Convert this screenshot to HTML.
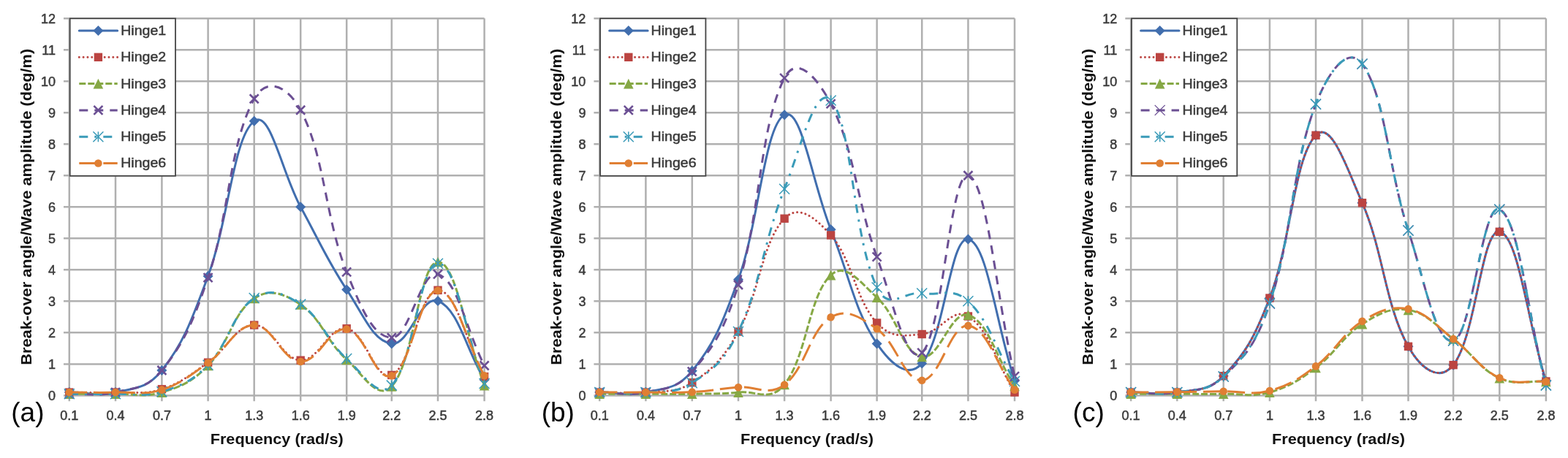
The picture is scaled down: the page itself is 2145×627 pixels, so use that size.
<!DOCTYPE html><html><head><meta charset="utf-8"><style>html,body{margin:0;padding:0;background:#fff;}svg{display:block;}</style></head><body>
<svg width="2145" height="627" viewBox="0 0 2145 627">
<rect width="2145" height="627" fill="#fff"/>
<g><path d="M87,541.4H662.6M87,498.38H662.6M87,455.36H662.6M87,412.34H662.6M87,369.32H662.6M87,326.3H662.6M87,283.28H662.6M87,240.26H662.6M87,197.24H662.6M87,154.22H662.6M87,111.2H662.6M87,68.18H662.6M87,25.16H662.6M94.8,25.16V549.3M158,25.16V549.3M221.4,25.16V549.3M284.6,25.16V549.3M347.7,25.16V549.3M411.2,25.16V549.3M474.2,25.16V549.3M535.8,25.16V549.3M599,25.16V549.3M662.6,25.16V549.3" stroke="#b0b0b0" stroke-width="2.5" fill="none"/><path d="M94.8,537.1 C120.08,537.1 133.34,542.96 158,537.1 C183.98,530.92 200.57,533.18 221.4,506.98 C251.21,469.51 262.06,438.82 284.6,377.92 C312.58,302.36 319.2,187.14 347.7,165.84 C369.84,149.28 385.71,236.81 411.2,283.28 C436.31,329.05 447.44,356.23 474.2,396.42 C497.28,431.08 510.14,467.23 535.8,470.42 C560.06,473.43 576.01,402.94 599,411.91 C626.73,422.73 637.16,476.7 662.6,519.89" fill="none" stroke="#416eae" stroke-width="3.0" stroke-linecap="round" stroke-linejoin="round"/><path d="M94.8,530.1 l7,7 l-7,7 l-7,-7 z" fill="#416eae"/><path d="M158,530.1 l7,7 l-7,7 l-7,-7 z" fill="#416eae"/><path d="M221.4,499.98 l7,7 l-7,7 l-7,-7 z" fill="#416eae"/><path d="M284.6,370.92 l7,7 l-7,7 l-7,-7 z" fill="#416eae"/><path d="M347.7,158.84 l7,7 l-7,7 l-7,-7 z" fill="#416eae"/><path d="M411.2,276.28 l7,7 l-7,7 l-7,-7 z" fill="#416eae"/><path d="M474.2,389.42 l7,7 l-7,7 l-7,-7 z" fill="#416eae"/><path d="M535.8,463.42 l7,7 l-7,7 l-7,-7 z" fill="#416eae"/><path d="M599,404.91 l7,7 l-7,7 l-7,-7 z" fill="#416eae"/><path d="M662.6,512.89 l7,7 l-7,7 l-7,-7 z" fill="#416eae"/><path d="M94.8,537.1 C120.08,537.1 132.71,537.96 158,537.1 C183.35,536.24 196.96,540.69 221.4,532.8 C247.6,524.34 260.01,513.31 284.6,496.23 C310.53,478.21 322.26,445.64 347.7,445.04 C372.9,444.44 385.64,492.26 411.2,493.22 C436.24,494.15 450.19,445.87 474.2,449.77 C500.03,453.96 513.33,522.89 535.8,513.44 C563.25,501.89 573.74,396.85 599,397.28 C624.46,397.71 637.16,468.27 662.6,515.59" fill="none" stroke="#bb4441" stroke-width="3.0" stroke-linecap="round" stroke-linejoin="round" stroke-dasharray="0.01 5.8"/><rect x="89.1" y="531.4" width="11.4" height="11.4" fill="#bb4441"/><rect x="152.3" y="531.4" width="11.4" height="11.4" fill="#bb4441"/><rect x="215.7" y="527.1" width="11.4" height="11.4" fill="#bb4441"/><rect x="278.9" y="490.53" width="11.4" height="11.4" fill="#bb4441"/><rect x="342" y="439.34" width="11.4" height="11.4" fill="#bb4441"/><rect x="405.5" y="487.52" width="11.4" height="11.4" fill="#bb4441"/><rect x="468.5" y="444.07" width="11.4" height="11.4" fill="#bb4441"/><rect x="530.1" y="507.74" width="11.4" height="11.4" fill="#bb4441"/><rect x="593.3" y="391.58" width="11.4" height="11.4" fill="#bb4441"/><rect x="656.9" y="509.89" width="11.4" height="11.4" fill="#bb4441"/><path d="M94.8,539.25 C120.08,539.25 132.7,539.68 158,539.25 C183.34,538.82 196.97,544.57 221.4,537.1 C247.61,529.08 262.01,523.54 284.6,500.53 C312.53,472.09 318.89,427.46 347.7,408.47 C369.53,394.08 388.59,402.08 411.2,417.07 C439.19,435.63 447.32,468.23 474.2,492.36 C497.16,512.97 516.55,549.57 535.8,528.92 C566.47,496.05 573.6,358.82 599,358.56 C624.32,358.31 637.16,460.01 662.6,527.63" fill="none" stroke="#86a845" stroke-width="3.0" stroke-linecap="butt" stroke-linejoin="round" stroke-dasharray="9 3"/><path d="M94.8,532.45 L101.6,546.05 L88,546.05 z" fill="#86a845"/><path d="M158,532.45 L164.8,546.05 L151.2,546.05 z" fill="#86a845"/><path d="M221.4,530.3 L228.2,543.9 L214.6,543.9 z" fill="#86a845"/><path d="M284.6,493.73 L291.4,507.33 L277.8,507.33 z" fill="#86a845"/><path d="M347.7,401.67 L354.5,415.27 L340.9,415.27 z" fill="#86a845"/><path d="M411.2,410.27 L418,423.87 L404.4,423.87 z" fill="#86a845"/><path d="M474.2,485.56 L481,499.16 L467.4,499.16 z" fill="#86a845"/><path d="M535.8,522.12 L542.6,535.72 L529,535.72 z" fill="#86a845"/><path d="M599,351.76 L605.8,365.36 L592.2,365.36 z" fill="#86a845"/><path d="M662.6,520.83 L669.4,534.43 L655.8,534.43 z" fill="#86a845"/><path d="M94.8,539.25 C120.08,538.39 133.34,543.38 158,537.1 C183.98,530.48 200.49,532.92 221.4,506.98 C251.13,470.12 262.97,443.74 284.6,380.07 C313.49,295.06 314.13,196.09 347.7,135.29 C364.77,104.37 393.61,117.82 411.2,150.78 C444.21,212.64 444.67,298.52 474.2,372.33 C494.51,423.11 510.75,461.64 535.8,462.24 C560.67,462.84 575.33,368.2 599,375.34 C626.05,383.51 637.16,450.46 662.6,500.53" fill="none" stroke="#6b4f93" stroke-width="3.0" stroke-linecap="butt" stroke-linejoin="round" stroke-dasharray="12 9"/><path d="M88.8,533.25 L100.8,545.25 M100.8,533.25 L88.8,545.25" stroke="#6b4f93" stroke-width="2.6" fill="none"/><path d="M152,531.1 L164,543.1 M164,531.1 L152,543.1" stroke="#6b4f93" stroke-width="2.6" fill="none"/><path d="M215.4,500.98 L227.4,512.98 M227.4,500.98 L215.4,512.98" stroke="#6b4f93" stroke-width="2.6" fill="none"/><path d="M278.6,374.07 L290.6,386.07 M290.6,374.07 L278.6,386.07" stroke="#6b4f93" stroke-width="2.6" fill="none"/><path d="M341.7,129.29 L353.7,141.29 M353.7,129.29 L341.7,141.29" stroke="#6b4f93" stroke-width="2.6" fill="none"/><path d="M405.2,144.78 L417.2,156.78 M417.2,144.78 L405.2,156.78" stroke="#6b4f93" stroke-width="2.6" fill="none"/><path d="M468.2,366.33 L480.2,378.33 M480.2,366.33 L468.2,378.33" stroke="#6b4f93" stroke-width="2.6" fill="none"/><path d="M529.8,456.24 L541.8,468.24 M541.8,456.24 L529.8,468.24" stroke="#6b4f93" stroke-width="2.6" fill="none"/><path d="M593,369.34 L605,381.34 M605,369.34 L593,381.34" stroke="#6b4f93" stroke-width="2.6" fill="none"/><path d="M656.6,494.53 L668.6,506.53 M668.6,494.53 L656.6,506.53" stroke="#6b4f93" stroke-width="2.6" fill="none"/><path d="M94.8,539.25 C120.08,539.25 132.71,539.85 158,539.25 C183.35,538.65 196.97,543.88 221.4,536.24 C247.61,528.04 261.99,522.62 284.6,499.67 C312.51,471.34 318.91,426.92 347.7,408.04 C369.55,393.71 388.55,401.77 411.2,416.64 C439.15,434.98 447.36,467.16 474.2,491.07 C497.2,511.56 516.44,547.86 535.8,527.63 C566.36,495.71 573.56,361.23 599,360.72 C624.28,360.2 637.16,459.32 662.6,525.05" fill="none" stroke="#3a9bb8" stroke-width="3.0" stroke-linecap="butt" stroke-linejoin="round" stroke-dasharray="12 9 3 9"/><path d="M87.8,532.25 L101.8,546.25 M101.8,532.25 L87.8,546.25 M94.8,532.25 L94.8,546.25" stroke="#3a9bb8" stroke-width="1.5" fill="none"/><path d="M151,532.25 L165,546.25 M165,532.25 L151,546.25 M158,532.25 L158,546.25" stroke="#3a9bb8" stroke-width="1.5" fill="none"/><path d="M214.4,529.24 L228.4,543.24 M228.4,529.24 L214.4,543.24 M221.4,529.24 L221.4,543.24" stroke="#3a9bb8" stroke-width="1.5" fill="none"/><path d="M277.6,492.67 L291.6,506.67 M291.6,492.67 L277.6,506.67 M284.6,492.67 L284.6,506.67" stroke="#3a9bb8" stroke-width="1.5" fill="none"/><path d="M340.7,401.04 L354.7,415.04 M354.7,401.04 L340.7,415.04 M347.7,401.04 L347.7,415.04" stroke="#3a9bb8" stroke-width="1.5" fill="none"/><path d="M404.2,409.64 L418.2,423.64 M418.2,409.64 L404.2,423.64 M411.2,409.64 L411.2,423.64" stroke="#3a9bb8" stroke-width="1.5" fill="none"/><path d="M467.2,484.07 L481.2,498.07 M481.2,484.07 L467.2,498.07 M474.2,484.07 L474.2,498.07" stroke="#3a9bb8" stroke-width="1.5" fill="none"/><path d="M528.8,520.63 L542.8,534.63 M542.8,520.63 L528.8,534.63 M535.8,520.63 L535.8,534.63" stroke="#3a9bb8" stroke-width="1.5" fill="none"/><path d="M592,353.72 L606,367.72 M606,353.72 L592,367.72 M599,353.72 L599,367.72" stroke="#3a9bb8" stroke-width="1.5" fill="none"/><path d="M655.6,518.05 L669.6,532.05 M669.6,518.05 L655.6,532.05 M662.6,518.05 L662.6,532.05" stroke="#3a9bb8" stroke-width="1.5" fill="none"/><path d="M94.8,537.1 C120.08,537.1 132.71,537.79 158,537.1 C183.35,536.41 196.98,541.46 221.4,533.66 C247.62,525.28 260.02,513.91 284.6,496.66 C310.54,478.46 322.32,445.38 347.7,445.04 C372.96,444.69 385.6,493.81 411.2,494.94 C436.2,496.04 450.15,446.89 474.2,450.63 C499.99,454.63 513.35,523.82 535.8,514.3 C563.27,502.65 573.65,397.71 599,397.71 C624.37,397.71 637.16,467.66 662.6,514.3" fill="none" stroke="#e07f33" stroke-width="3.0" stroke-linecap="butt" stroke-linejoin="round" stroke-dasharray="24 9"/><circle cx="94.8" cy="537.1" r="5.3" fill="#e07f33"/><circle cx="158" cy="537.1" r="5.3" fill="#e07f33"/><circle cx="221.4" cy="533.66" r="5.3" fill="#e07f33"/><circle cx="284.6" cy="496.66" r="5.3" fill="#e07f33"/><circle cx="347.7" cy="445.04" r="5.3" fill="#e07f33"/><circle cx="411.2" cy="494.94" r="5.3" fill="#e07f33"/><circle cx="474.2" cy="450.63" r="5.3" fill="#e07f33"/><circle cx="535.8" cy="514.3" r="5.3" fill="#e07f33"/><circle cx="599" cy="397.71" r="5.3" fill="#e07f33"/><circle cx="662.6" cy="514.3" r="5.3" fill="#e07f33"/><text x="76" y="547.8" text-anchor="end" font-size="18" fill="#3b3b3b" stroke="#3b3b3b" stroke-width="0.5" font-family="'Liberation Sans', Arial, sans-serif">0</text><text x="76" y="504.78" text-anchor="end" font-size="18" fill="#3b3b3b" stroke="#3b3b3b" stroke-width="0.5" font-family="'Liberation Sans', Arial, sans-serif">1</text><text x="76" y="461.76" text-anchor="end" font-size="18" fill="#3b3b3b" stroke="#3b3b3b" stroke-width="0.5" font-family="'Liberation Sans', Arial, sans-serif">2</text><text x="76" y="418.74" text-anchor="end" font-size="18" fill="#3b3b3b" stroke="#3b3b3b" stroke-width="0.5" font-family="'Liberation Sans', Arial, sans-serif">3</text><text x="76" y="375.72" text-anchor="end" font-size="18" fill="#3b3b3b" stroke="#3b3b3b" stroke-width="0.5" font-family="'Liberation Sans', Arial, sans-serif">4</text><text x="76" y="332.7" text-anchor="end" font-size="18" fill="#3b3b3b" stroke="#3b3b3b" stroke-width="0.5" font-family="'Liberation Sans', Arial, sans-serif">5</text><text x="76" y="289.68" text-anchor="end" font-size="18" fill="#3b3b3b" stroke="#3b3b3b" stroke-width="0.5" font-family="'Liberation Sans', Arial, sans-serif">6</text><text x="76" y="246.66" text-anchor="end" font-size="18" fill="#3b3b3b" stroke="#3b3b3b" stroke-width="0.5" font-family="'Liberation Sans', Arial, sans-serif">7</text><text x="76" y="203.64" text-anchor="end" font-size="18" fill="#3b3b3b" stroke="#3b3b3b" stroke-width="0.5" font-family="'Liberation Sans', Arial, sans-serif">8</text><text x="76" y="160.62" text-anchor="end" font-size="18" fill="#3b3b3b" stroke="#3b3b3b" stroke-width="0.5" font-family="'Liberation Sans', Arial, sans-serif">9</text><text x="76" y="117.6" text-anchor="end" font-size="18" fill="#3b3b3b" stroke="#3b3b3b" stroke-width="0.5" font-family="'Liberation Sans', Arial, sans-serif">10</text><text x="76" y="74.58" text-anchor="end" font-size="18" fill="#3b3b3b" stroke="#3b3b3b" stroke-width="0.5" font-family="'Liberation Sans', Arial, sans-serif">11</text><text x="76" y="31.56" text-anchor="end" font-size="18" fill="#3b3b3b" stroke="#3b3b3b" stroke-width="0.5" font-family="'Liberation Sans', Arial, sans-serif">12</text><text x="94.8" y="574.9" text-anchor="middle" font-size="18" fill="#3b3b3b" stroke="#3b3b3b" stroke-width="0.5" font-family="'Liberation Sans', Arial, sans-serif">0.1</text><text x="158" y="574.9" text-anchor="middle" font-size="18" fill="#3b3b3b" stroke="#3b3b3b" stroke-width="0.5" font-family="'Liberation Sans', Arial, sans-serif">0.4</text><text x="221.4" y="574.9" text-anchor="middle" font-size="18" fill="#3b3b3b" stroke="#3b3b3b" stroke-width="0.5" font-family="'Liberation Sans', Arial, sans-serif">0.7</text><text x="284.6" y="574.9" text-anchor="middle" font-size="18" fill="#3b3b3b" stroke="#3b3b3b" stroke-width="0.5" font-family="'Liberation Sans', Arial, sans-serif">1</text><text x="347.7" y="574.9" text-anchor="middle" font-size="18" fill="#3b3b3b" stroke="#3b3b3b" stroke-width="0.5" font-family="'Liberation Sans', Arial, sans-serif">1.3</text><text x="411.2" y="574.9" text-anchor="middle" font-size="18" fill="#3b3b3b" stroke="#3b3b3b" stroke-width="0.5" font-family="'Liberation Sans', Arial, sans-serif">1.6</text><text x="474.2" y="574.9" text-anchor="middle" font-size="18" fill="#3b3b3b" stroke="#3b3b3b" stroke-width="0.5" font-family="'Liberation Sans', Arial, sans-serif">1.9</text><text x="535.8" y="574.9" text-anchor="middle" font-size="18" fill="#3b3b3b" stroke="#3b3b3b" stroke-width="0.5" font-family="'Liberation Sans', Arial, sans-serif">2.2</text><text x="599" y="574.9" text-anchor="middle" font-size="18" fill="#3b3b3b" stroke="#3b3b3b" stroke-width="0.5" font-family="'Liberation Sans', Arial, sans-serif">2.5</text><text x="662.6" y="574.9" text-anchor="middle" font-size="18" fill="#3b3b3b" stroke="#3b3b3b" stroke-width="0.5" font-family="'Liberation Sans', Arial, sans-serif">2.8</text><rect x="95.7" y="25.3" width="144.3" height="215.5" fill="#fff" stroke="#454545" stroke-width="1.8"/><path d="M108.3,42H160.7" fill="none" stroke="#416eae" stroke-width="3.0" stroke-linecap="round" stroke-linejoin="round"/><path d="M134.4,35 l7,7 l-7,7 l-7,-7 z" fill="#416eae"/><text x="165.2" y="47.9" font-size="17.6" textLength="62" lengthAdjust="spacingAndGlyphs" fill="#3b3b3b" stroke="#3b3b3b" stroke-width="0.5" font-family="'Liberation Sans', Arial, sans-serif">Hinge1</text><path d="M108.3,78.3H160.7" fill="none" stroke="#bb4441" stroke-width="3.0" stroke-linecap="round" stroke-linejoin="round" stroke-dasharray="0.01 5.8"/><rect x="128.7" y="72.6" width="11.4" height="11.4" fill="#bb4441"/><text x="165.2" y="84.2" font-size="17.6" textLength="62" lengthAdjust="spacingAndGlyphs" fill="#3b3b3b" stroke="#3b3b3b" stroke-width="0.5" font-family="'Liberation Sans', Arial, sans-serif">Hinge2</text><path d="M108.3,114.6H160.7" fill="none" stroke="#86a845" stroke-width="3.0" stroke-linecap="butt" stroke-linejoin="round" stroke-dasharray="9 3"/><path d="M134.4,107.8 L141.2,121.4 L127.6,121.4 z" fill="#86a845"/><text x="165.2" y="120.5" font-size="17.6" textLength="62" lengthAdjust="spacingAndGlyphs" fill="#3b3b3b" stroke="#3b3b3b" stroke-width="0.5" font-family="'Liberation Sans', Arial, sans-serif">Hinge3</text><path d="M108.3,150.9H160.7" fill="none" stroke="#6b4f93" stroke-width="3.0" stroke-linecap="butt" stroke-linejoin="round" stroke-dasharray="12 9"/><path d="M128.4,144.9 L140.4,156.9 M140.4,144.9 L128.4,156.9" stroke="#6b4f93" stroke-width="2.6" fill="none"/><text x="165.2" y="156.8" font-size="17.6" textLength="62" lengthAdjust="spacingAndGlyphs" fill="#3b3b3b" stroke="#3b3b3b" stroke-width="0.5" font-family="'Liberation Sans', Arial, sans-serif">Hinge4</text><path d="M108.3,187.2H160.7" fill="none" stroke="#3a9bb8" stroke-width="3.0" stroke-linecap="butt" stroke-linejoin="round" stroke-dasharray="12 9 3 9"/><path d="M127.4,180.2 L141.4,194.2 M141.4,180.2 L127.4,194.2 M134.4,180.2 L134.4,194.2" stroke="#3a9bb8" stroke-width="1.5" fill="none"/><text x="165.2" y="193.1" font-size="17.6" textLength="62" lengthAdjust="spacingAndGlyphs" fill="#3b3b3b" stroke="#3b3b3b" stroke-width="0.5" font-family="'Liberation Sans', Arial, sans-serif">Hinge5</text><path d="M108.3,223.5H160.7" fill="none" stroke="#e07f33" stroke-width="3.0" stroke-linecap="butt" stroke-linejoin="round" stroke-dasharray="24 9"/><circle cx="134.4" cy="223.5" r="5.3" fill="#e07f33"/><text x="165.2" y="229.4" font-size="17.6" textLength="62" lengthAdjust="spacingAndGlyphs" fill="#3b3b3b" stroke="#3b3b3b" stroke-width="0.5" font-family="'Liberation Sans', Arial, sans-serif">Hinge6</text><text x="378.7" y="608.3" text-anchor="middle" font-size="20.5" textLength="182" lengthAdjust="spacingAndGlyphs" font-weight="bold" fill="#111" font-family="'Liberation Sans', Arial, sans-serif">Frequency (rad/s)</text><text transform="translate(42.8,283.28) rotate(-90)" text-anchor="middle" font-size="20.6" textLength="433" lengthAdjust="spacingAndGlyphs" font-weight="bold" fill="#111" font-family="'Liberation Sans', Arial, sans-serif">Break-over angle/Wave amplitude (deg/m)</text><text x="15.3" y="577.3" font-size="37" fill="#000" font-family="'Liberation Sans', Arial, sans-serif">(a)</text></g>
<g><path d="M812.4,541.4H1388M812.4,498.38H1388M812.4,455.36H1388M812.4,412.34H1388M812.4,369.32H1388M812.4,326.3H1388M812.4,283.28H1388M812.4,240.26H1388M812.4,197.24H1388M812.4,154.22H1388M812.4,111.2H1388M812.4,68.18H1388M812.4,25.16H1388M820.2,25.16V549.3M883.4,25.16V549.3M946.8,25.16V549.3M1010,25.16V549.3M1073.1,25.16V549.3M1136.6,25.16V549.3M1199.6,25.16V549.3M1261.2,25.16V549.3M1324.4,25.16V549.3M1388,25.16V549.3" stroke="#b0b0b0" stroke-width="2.5" fill="none"/><path d="M820.2,537.1 C845.48,537.1 858.71,542.8 883.4,537.1 C909.35,531.1 925.85,533.4 946.8,507.84 C976.49,471.62 987.96,443.85 1010,382.66 C1038.48,303.6 1045.74,172.02 1073.1,157.23 C1096.38,144.66 1111.26,251.53 1136.6,314.25 C1161.86,376.8 1169.06,425.5 1199.6,470.42 C1218.9,498.81 1242.3,519.15 1261.2,497.52 C1292.22,462.02 1299.78,323 1324.4,327.59 C1350.5,332.46 1362.56,443.74 1388,521.18" fill="none" stroke="#416eae" stroke-width="3.0" stroke-linecap="round" stroke-linejoin="round"/><path d="M820.2,530.1 l7,7 l-7,7 l-7,-7 z" fill="#416eae"/><path d="M883.4,530.1 l7,7 l-7,7 l-7,-7 z" fill="#416eae"/><path d="M946.8,500.84 l7,7 l-7,7 l-7,-7 z" fill="#416eae"/><path d="M1010,375.66 l7,7 l-7,7 l-7,-7 z" fill="#416eae"/><path d="M1073.1,150.23 l7,7 l-7,7 l-7,-7 z" fill="#416eae"/><path d="M1136.6,307.25 l7,7 l-7,7 l-7,-7 z" fill="#416eae"/><path d="M1199.6,463.42 l7,7 l-7,7 l-7,-7 z" fill="#416eae"/><path d="M1261.2,490.52 l7,7 l-7,7 l-7,-7 z" fill="#416eae"/><path d="M1324.4,320.59 l7,7 l-7,7 l-7,-7 z" fill="#416eae"/><path d="M1388,514.18 l7,7 l-7,7 l-7,-7 z" fill="#416eae"/><path d="M820.2,537.1 C845.48,537.1 858.24,539.75 883.4,537.1 C908.88,534.41 923.83,538.82 946.8,523.76 C974.47,505.61 988.35,492.57 1010,454.07 C1038.87,402.74 1042.13,331.51 1073.1,299.2 C1092.77,278.68 1115.67,298.37 1136.6,322 C1166.27,355.5 1170.01,409.85 1199.6,442.02 C1219.85,464.05 1236.65,459.29 1261.2,457.51 C1286.57,455.67 1302.74,419.39 1324.4,432.99 C1353.46,451.23 1362.56,495.45 1388,537.1" fill="none" stroke="#bb4441" stroke-width="3.0" stroke-linecap="round" stroke-linejoin="round" stroke-dasharray="0.01 5.8"/><rect x="814.5" y="531.4" width="11.4" height="11.4" fill="#bb4441"/><rect x="877.7" y="531.4" width="11.4" height="11.4" fill="#bb4441"/><rect x="941.1" y="518.06" width="11.4" height="11.4" fill="#bb4441"/><rect x="1004.3" y="448.37" width="11.4" height="11.4" fill="#bb4441"/><rect x="1067.4" y="293.5" width="11.4" height="11.4" fill="#bb4441"/><rect x="1130.9" y="316.3" width="11.4" height="11.4" fill="#bb4441"/><rect x="1193.9" y="436.32" width="11.4" height="11.4" fill="#bb4441"/><rect x="1255.5" y="451.81" width="11.4" height="11.4" fill="#bb4441"/><rect x="1318.7" y="427.29" width="11.4" height="11.4" fill="#bb4441"/><rect x="1382.3" y="531.4" width="11.4" height="11.4" fill="#bb4441"/><path d="M820.2,539.25 C845.48,539.25 858.1,539.25 883.4,539.25 C908.74,539.25 921.46,539.68 946.8,539.25 C972.1,538.82 984.82,539.67 1010,537.1 C1035.34,534.51 1053.58,551.09 1073.1,526.34 C1104.22,486.9 1106.05,405.41 1136.6,376.63 C1156.65,357.75 1177.02,386.91 1199.6,407.18 C1226.86,431.65 1235.12,483.45 1261.2,488.49 C1285.04,493.09 1301,423.89 1324.4,431.27 C1351.72,439.89 1362.56,489.6 1388,528.49" fill="none" stroke="#86a845" stroke-width="3.0" stroke-linecap="butt" stroke-linejoin="round" stroke-dasharray="9 3"/><path d="M820.2,532.45 L827,546.05 L813.4,546.05 z" fill="#86a845"/><path d="M883.4,532.45 L890.2,546.05 L876.6,546.05 z" fill="#86a845"/><path d="M946.8,532.45 L953.6,546.05 L940,546.05 z" fill="#86a845"/><path d="M1010,530.3 L1016.8,543.9 L1003.2,543.9 z" fill="#86a845"/><path d="M1073.1,519.54 L1079.9,533.14 L1066.3,533.14 z" fill="#86a845"/><path d="M1136.6,369.83 L1143.4,383.43 L1129.8,383.43 z" fill="#86a845"/><path d="M1199.6,400.38 L1206.4,413.98 L1192.8,413.98 z" fill="#86a845"/><path d="M1261.2,481.69 L1268,495.29 L1254.4,495.29 z" fill="#86a845"/><path d="M1324.4,424.47 L1331.2,438.07 L1317.6,438.07 z" fill="#86a845"/><path d="M1388,521.69 L1394.8,535.29 L1381.2,535.29 z" fill="#86a845"/><path d="M820.2,537.1 C845.48,537.1 858.68,542.64 883.4,537.1 C909.32,531.29 925.62,533.31 946.8,508.7 C976.26,474.46 989.53,455.08 1010,389.97 C1040.05,294.36 1039.35,172.96 1073.1,106.9 C1089.99,73.84 1118.1,106.38 1136.6,142.17 C1168.7,204.29 1172.12,276.55 1199.6,351.68 C1221.96,412.84 1239.64,502.14 1261.2,482.89 C1289.56,457.57 1299.79,234 1324.4,240.26 C1350.51,246.9 1362.56,405.2 1388,515.16" fill="none" stroke="#6b4f93" stroke-width="3.0" stroke-linecap="butt" stroke-linejoin="round" stroke-dasharray="12 9"/><path d="M814.2,531.1 L826.2,543.1 M826.2,531.1 L814.2,543.1" stroke="#6b4f93" stroke-width="2.6" fill="none"/><path d="M877.4,531.1 L889.4,543.1 M889.4,531.1 L877.4,543.1" stroke="#6b4f93" stroke-width="2.6" fill="none"/><path d="M940.8,502.7 L952.8,514.7 M952.8,502.7 L940.8,514.7" stroke="#6b4f93" stroke-width="2.6" fill="none"/><path d="M1004,383.97 L1016,395.97 M1016,383.97 L1004,395.97" stroke="#6b4f93" stroke-width="2.6" fill="none"/><path d="M1067.1,100.9 L1079.1,112.9 M1079.1,100.9 L1067.1,112.9" stroke="#6b4f93" stroke-width="2.6" fill="none"/><path d="M1130.6,136.17 L1142.6,148.17 M1142.6,136.17 L1130.6,148.17" stroke="#6b4f93" stroke-width="2.6" fill="none"/><path d="M1193.6,345.68 L1205.6,357.68 M1205.6,345.68 L1193.6,357.68" stroke="#6b4f93" stroke-width="2.6" fill="none"/><path d="M1255.2,476.89 L1267.2,488.89 M1267.2,476.89 L1255.2,488.89" stroke="#6b4f93" stroke-width="2.6" fill="none"/><path d="M1318.4,234.26 L1330.4,246.26 M1330.4,234.26 L1318.4,246.26" stroke="#6b4f93" stroke-width="2.6" fill="none"/><path d="M1382,509.16 L1394,521.16 M1394,509.16 L1382,521.16" stroke="#6b4f93" stroke-width="2.6" fill="none"/><path d="M820.2,537.1 C845.48,537.1 858.23,539.66 883.4,537.1 C908.87,534.5 923.86,539.23 946.8,524.19 C974.5,506.02 989.58,496.98 1010,454.07 C1040.1,390.8 1045.23,328.47 1073.1,258.76 C1095.87,201.82 1115.41,114.88 1136.6,137.44 C1166.01,168.74 1166.05,322.29 1199.6,393.41 C1215.89,427.94 1236.43,397.83 1261.2,401.58 C1286.35,405.4 1303.32,392.32 1324.4,412.34 C1354.04,440.5 1362.56,478.16 1388,522.04" fill="none" stroke="#3a9bb8" stroke-width="3.0" stroke-linecap="butt" stroke-linejoin="round" stroke-dasharray="12 9 3 9"/><path d="M813.2,530.1 L827.2,544.1 M827.2,530.1 L813.2,544.1 M820.2,530.1 L820.2,544.1" stroke="#3a9bb8" stroke-width="1.5" fill="none"/><path d="M876.4,530.1 L890.4,544.1 M890.4,530.1 L876.4,544.1 M883.4,530.1 L883.4,544.1" stroke="#3a9bb8" stroke-width="1.5" fill="none"/><path d="M939.8,517.19 L953.8,531.19 M953.8,517.19 L939.8,531.19 M946.8,517.19 L946.8,531.19" stroke="#3a9bb8" stroke-width="1.5" fill="none"/><path d="M1003,447.07 L1017,461.07 M1017,447.07 L1003,461.07 M1010,447.07 L1010,461.07" stroke="#3a9bb8" stroke-width="1.5" fill="none"/><path d="M1066.1,251.76 L1080.1,265.76 M1080.1,251.76 L1066.1,265.76 M1073.1,251.76 L1073.1,265.76" stroke="#3a9bb8" stroke-width="1.5" fill="none"/><path d="M1129.6,130.44 L1143.6,144.44 M1143.6,130.44 L1129.6,144.44 M1136.6,130.44 L1136.6,144.44" stroke="#3a9bb8" stroke-width="1.5" fill="none"/><path d="M1192.6,386.41 L1206.6,400.41 M1206.6,386.41 L1192.6,400.41 M1199.6,386.41 L1199.6,400.41" stroke="#3a9bb8" stroke-width="1.5" fill="none"/><path d="M1254.2,394.58 L1268.2,408.58 M1268.2,394.58 L1254.2,408.58 M1261.2,394.58 L1261.2,408.58" stroke="#3a9bb8" stroke-width="1.5" fill="none"/><path d="M1317.4,405.34 L1331.4,419.34 M1331.4,405.34 L1317.4,419.34 M1324.4,405.34 L1324.4,419.34" stroke="#3a9bb8" stroke-width="1.5" fill="none"/><path d="M1381,515.04 L1395,529.04 M1395,515.04 L1381,529.04 M1388,515.04 L1388,529.04" stroke="#3a9bb8" stroke-width="1.5" fill="none"/><path d="M820.2,537.1 C845.48,537.1 858.1,537.18 883.4,537.1 C908.74,537.01 921.49,538.04 946.8,536.67 C972.13,535.29 984.71,532.2 1010,530.21 C1035.23,528.24 1051.39,543.23 1073.1,526.77 C1102.03,504.85 1107.87,451.67 1136.6,434.28 C1158.47,421.04 1176.95,434.48 1199.6,450.2 C1226.79,469.07 1236.52,521.6 1261.2,520.75 C1286.44,519.88 1299.68,443.38 1324.4,445.9 C1350.4,448.54 1362.56,498.55 1388,533.66" fill="none" stroke="#e07f33" stroke-width="3.0" stroke-linecap="butt" stroke-linejoin="round" stroke-dasharray="24 9"/><circle cx="820.2" cy="537.1" r="5.3" fill="#e07f33"/><circle cx="883.4" cy="537.1" r="5.3" fill="#e07f33"/><circle cx="946.8" cy="536.67" r="5.3" fill="#e07f33"/><circle cx="1010" cy="530.21" r="5.3" fill="#e07f33"/><circle cx="1073.1" cy="526.77" r="5.3" fill="#e07f33"/><circle cx="1136.6" cy="434.28" r="5.3" fill="#e07f33"/><circle cx="1199.6" cy="450.2" r="5.3" fill="#e07f33"/><circle cx="1261.2" cy="520.75" r="5.3" fill="#e07f33"/><circle cx="1324.4" cy="445.9" r="5.3" fill="#e07f33"/><circle cx="1388" cy="533.66" r="5.3" fill="#e07f33"/><text x="801.4" y="547.8" text-anchor="end" font-size="18" fill="#3b3b3b" stroke="#3b3b3b" stroke-width="0.5" font-family="'Liberation Sans', Arial, sans-serif">0</text><text x="801.4" y="504.78" text-anchor="end" font-size="18" fill="#3b3b3b" stroke="#3b3b3b" stroke-width="0.5" font-family="'Liberation Sans', Arial, sans-serif">1</text><text x="801.4" y="461.76" text-anchor="end" font-size="18" fill="#3b3b3b" stroke="#3b3b3b" stroke-width="0.5" font-family="'Liberation Sans', Arial, sans-serif">2</text><text x="801.4" y="418.74" text-anchor="end" font-size="18" fill="#3b3b3b" stroke="#3b3b3b" stroke-width="0.5" font-family="'Liberation Sans', Arial, sans-serif">3</text><text x="801.4" y="375.72" text-anchor="end" font-size="18" fill="#3b3b3b" stroke="#3b3b3b" stroke-width="0.5" font-family="'Liberation Sans', Arial, sans-serif">4</text><text x="801.4" y="332.7" text-anchor="end" font-size="18" fill="#3b3b3b" stroke="#3b3b3b" stroke-width="0.5" font-family="'Liberation Sans', Arial, sans-serif">5</text><text x="801.4" y="289.68" text-anchor="end" font-size="18" fill="#3b3b3b" stroke="#3b3b3b" stroke-width="0.5" font-family="'Liberation Sans', Arial, sans-serif">6</text><text x="801.4" y="246.66" text-anchor="end" font-size="18" fill="#3b3b3b" stroke="#3b3b3b" stroke-width="0.5" font-family="'Liberation Sans', Arial, sans-serif">7</text><text x="801.4" y="203.64" text-anchor="end" font-size="18" fill="#3b3b3b" stroke="#3b3b3b" stroke-width="0.5" font-family="'Liberation Sans', Arial, sans-serif">8</text><text x="801.4" y="160.62" text-anchor="end" font-size="18" fill="#3b3b3b" stroke="#3b3b3b" stroke-width="0.5" font-family="'Liberation Sans', Arial, sans-serif">9</text><text x="801.4" y="117.6" text-anchor="end" font-size="18" fill="#3b3b3b" stroke="#3b3b3b" stroke-width="0.5" font-family="'Liberation Sans', Arial, sans-serif">10</text><text x="801.4" y="74.58" text-anchor="end" font-size="18" fill="#3b3b3b" stroke="#3b3b3b" stroke-width="0.5" font-family="'Liberation Sans', Arial, sans-serif">11</text><text x="801.4" y="31.56" text-anchor="end" font-size="18" fill="#3b3b3b" stroke="#3b3b3b" stroke-width="0.5" font-family="'Liberation Sans', Arial, sans-serif">12</text><text x="820.2" y="574.9" text-anchor="middle" font-size="18" fill="#3b3b3b" stroke="#3b3b3b" stroke-width="0.5" font-family="'Liberation Sans', Arial, sans-serif">0.1</text><text x="883.4" y="574.9" text-anchor="middle" font-size="18" fill="#3b3b3b" stroke="#3b3b3b" stroke-width="0.5" font-family="'Liberation Sans', Arial, sans-serif">0.4</text><text x="946.8" y="574.9" text-anchor="middle" font-size="18" fill="#3b3b3b" stroke="#3b3b3b" stroke-width="0.5" font-family="'Liberation Sans', Arial, sans-serif">0.7</text><text x="1010" y="574.9" text-anchor="middle" font-size="18" fill="#3b3b3b" stroke="#3b3b3b" stroke-width="0.5" font-family="'Liberation Sans', Arial, sans-serif">1</text><text x="1073.1" y="574.9" text-anchor="middle" font-size="18" fill="#3b3b3b" stroke="#3b3b3b" stroke-width="0.5" font-family="'Liberation Sans', Arial, sans-serif">1.3</text><text x="1136.6" y="574.9" text-anchor="middle" font-size="18" fill="#3b3b3b" stroke="#3b3b3b" stroke-width="0.5" font-family="'Liberation Sans', Arial, sans-serif">1.6</text><text x="1199.6" y="574.9" text-anchor="middle" font-size="18" fill="#3b3b3b" stroke="#3b3b3b" stroke-width="0.5" font-family="'Liberation Sans', Arial, sans-serif">1.9</text><text x="1261.2" y="574.9" text-anchor="middle" font-size="18" fill="#3b3b3b" stroke="#3b3b3b" stroke-width="0.5" font-family="'Liberation Sans', Arial, sans-serif">2.2</text><text x="1324.4" y="574.9" text-anchor="middle" font-size="18" fill="#3b3b3b" stroke="#3b3b3b" stroke-width="0.5" font-family="'Liberation Sans', Arial, sans-serif">2.5</text><text x="1388" y="574.9" text-anchor="middle" font-size="18" fill="#3b3b3b" stroke="#3b3b3b" stroke-width="0.5" font-family="'Liberation Sans', Arial, sans-serif">2.8</text><rect x="821.1" y="25.3" width="144.3" height="215.5" fill="#fff" stroke="#454545" stroke-width="1.8"/><path d="M833.7,42H886.1" fill="none" stroke="#416eae" stroke-width="3.0" stroke-linecap="round" stroke-linejoin="round"/><path d="M859.8,35 l7,7 l-7,7 l-7,-7 z" fill="#416eae"/><text x="890.6" y="47.9" font-size="17.6" textLength="62" lengthAdjust="spacingAndGlyphs" fill="#3b3b3b" stroke="#3b3b3b" stroke-width="0.5" font-family="'Liberation Sans', Arial, sans-serif">Hinge1</text><path d="M833.7,78.3H886.1" fill="none" stroke="#bb4441" stroke-width="3.0" stroke-linecap="round" stroke-linejoin="round" stroke-dasharray="0.01 5.8"/><rect x="854.1" y="72.6" width="11.4" height="11.4" fill="#bb4441"/><text x="890.6" y="84.2" font-size="17.6" textLength="62" lengthAdjust="spacingAndGlyphs" fill="#3b3b3b" stroke="#3b3b3b" stroke-width="0.5" font-family="'Liberation Sans', Arial, sans-serif">Hinge2</text><path d="M833.7,114.6H886.1" fill="none" stroke="#86a845" stroke-width="3.0" stroke-linecap="butt" stroke-linejoin="round" stroke-dasharray="9 3"/><path d="M859.8,107.8 L866.6,121.4 L853,121.4 z" fill="#86a845"/><text x="890.6" y="120.5" font-size="17.6" textLength="62" lengthAdjust="spacingAndGlyphs" fill="#3b3b3b" stroke="#3b3b3b" stroke-width="0.5" font-family="'Liberation Sans', Arial, sans-serif">Hinge3</text><path d="M833.7,150.9H886.1" fill="none" stroke="#6b4f93" stroke-width="3.0" stroke-linecap="butt" stroke-linejoin="round" stroke-dasharray="12 9"/><path d="M853.8,144.9 L865.8,156.9 M865.8,144.9 L853.8,156.9" stroke="#6b4f93" stroke-width="2.6" fill="none"/><text x="890.6" y="156.8" font-size="17.6" textLength="62" lengthAdjust="spacingAndGlyphs" fill="#3b3b3b" stroke="#3b3b3b" stroke-width="0.5" font-family="'Liberation Sans', Arial, sans-serif">Hinge4</text><path d="M833.7,187.2H886.1" fill="none" stroke="#3a9bb8" stroke-width="3.0" stroke-linecap="butt" stroke-linejoin="round" stroke-dasharray="12 9 3 9"/><path d="M852.8,180.2 L866.8,194.2 M866.8,180.2 L852.8,194.2 M859.8,180.2 L859.8,194.2" stroke="#3a9bb8" stroke-width="1.5" fill="none"/><text x="890.6" y="193.1" font-size="17.6" textLength="62" lengthAdjust="spacingAndGlyphs" fill="#3b3b3b" stroke="#3b3b3b" stroke-width="0.5" font-family="'Liberation Sans', Arial, sans-serif">Hinge5</text><path d="M833.7,223.5H886.1" fill="none" stroke="#e07f33" stroke-width="3.0" stroke-linecap="butt" stroke-linejoin="round" stroke-dasharray="24 9"/><circle cx="859.8" cy="223.5" r="5.3" fill="#e07f33"/><text x="890.6" y="229.4" font-size="17.6" textLength="62" lengthAdjust="spacingAndGlyphs" fill="#3b3b3b" stroke="#3b3b3b" stroke-width="0.5" font-family="'Liberation Sans', Arial, sans-serif">Hinge6</text><text x="1104.1" y="608.3" text-anchor="middle" font-size="20.5" textLength="182" lengthAdjust="spacingAndGlyphs" font-weight="bold" fill="#111" font-family="'Liberation Sans', Arial, sans-serif">Frequency (rad/s)</text><text transform="translate(768.2,283.28) rotate(-90)" text-anchor="middle" font-size="20.6" textLength="433" lengthAdjust="spacingAndGlyphs" font-weight="bold" fill="#111" font-family="'Liberation Sans', Arial, sans-serif">Break-over angle/Wave amplitude (deg/m)</text><text x="740.7" y="577.3" font-size="37" fill="#000" font-family="'Liberation Sans', Arial, sans-serif">(b)</text></g>
<g><path d="M1539.3,541.4H2114.9M1539.3,498.38H2114.9M1539.3,455.36H2114.9M1539.3,412.34H2114.9M1539.3,369.32H2114.9M1539.3,326.3H2114.9M1539.3,283.28H2114.9M1539.3,240.26H2114.9M1539.3,197.24H2114.9M1539.3,154.22H2114.9M1539.3,111.2H2114.9M1539.3,68.18H2114.9M1539.3,25.16H2114.9M1547.1,25.16V549.3M1610.3,25.16V549.3M1673.7,25.16V549.3M1736.9,25.16V549.3M1800,25.16V549.3M1863.5,25.16V549.3M1926.5,25.16V549.3M1988.1,25.16V549.3M2051.3,25.16V549.3M2114.9,25.16V549.3" stroke="#b0b0b0" stroke-width="2.5" fill="none"/><path d="M1547.1,537.1 C1572.38,537.1 1585.37,541.5 1610.3,537.1 C1636.01,532.55 1652.23,536.62 1673.7,514.73 C1702.87,485 1715.55,463.73 1736.9,408.04 C1766.07,331.92 1770.14,215.94 1800,185.19 C1820.78,163.8 1842.03,228.62 1863.5,277.69 C1892.63,344.25 1894.72,417.66 1926.5,474.29 C1944.56,506.46 1969.63,522.91 1988.1,499.67 C2019.55,460.11 2026.61,312.91 2051.3,317.27 C2077.33,321.86 2089.46,440.13 2114.9,522.04" fill="none" stroke="#416eae" stroke-width="3.0" stroke-linecap="round" stroke-linejoin="round"/><path d="M1547.1,530.1 l7,7 l-7,7 l-7,-7 z" fill="#416eae"/><path d="M1610.3,530.1 l7,7 l-7,7 l-7,-7 z" fill="#416eae"/><path d="M1673.7,507.73 l7,7 l-7,7 l-7,-7 z" fill="#416eae"/><path d="M1736.9,401.04 l7,7 l-7,7 l-7,-7 z" fill="#416eae"/><path d="M1800,178.19 l7,7 l-7,7 l-7,-7 z" fill="#416eae"/><path d="M1863.5,270.69 l7,7 l-7,7 l-7,-7 z" fill="#416eae"/><path d="M1926.5,467.29 l7,7 l-7,7 l-7,-7 z" fill="#416eae"/><path d="M1988.1,492.67 l7,7 l-7,7 l-7,-7 z" fill="#416eae"/><path d="M2051.3,310.27 l7,7 l-7,7 l-7,-7 z" fill="#416eae"/><path d="M2114.9,515.04 l7,7 l-7,7 l-7,-7 z" fill="#416eae"/><path d="M1547.1,537.1 C1572.38,537.1 1585.37,541.5 1610.3,537.1 C1636.01,532.55 1652.23,536.62 1673.7,514.73 C1702.87,485 1715.55,463.73 1736.9,408.04 C1766.07,331.92 1770.14,215.94 1800,185.19 C1820.78,163.8 1842.03,228.62 1863.5,277.69 C1892.63,344.25 1894.72,417.66 1926.5,474.29 C1944.56,506.46 1969.63,522.91 1988.1,499.67 C2019.55,460.11 2026.61,312.91 2051.3,317.27 C2077.33,321.86 2089.46,440.13 2114.9,522.04" fill="none" stroke="#bb4441" stroke-width="3.0" stroke-linecap="round" stroke-linejoin="round" stroke-dasharray="0.01 5.8"/><rect x="1541.4" y="531.4" width="11.4" height="11.4" fill="#bb4441"/><rect x="1604.6" y="531.4" width="11.4" height="11.4" fill="#bb4441"/><rect x="1668" y="509.03" width="11.4" height="11.4" fill="#bb4441"/><rect x="1731.2" y="402.34" width="11.4" height="11.4" fill="#bb4441"/><rect x="1794.3" y="179.49" width="11.4" height="11.4" fill="#bb4441"/><rect x="1857.8" y="271.99" width="11.4" height="11.4" fill="#bb4441"/><rect x="1920.8" y="468.59" width="11.4" height="11.4" fill="#bb4441"/><rect x="1982.4" y="493.97" width="11.4" height="11.4" fill="#bb4441"/><rect x="2045.6" y="311.57" width="11.4" height="11.4" fill="#bb4441"/><rect x="2109.2" y="516.34" width="11.4" height="11.4" fill="#bb4441"/><path d="M1547.1,539.25 C1572.38,539.25 1585,539.25 1610.3,539.25 C1635.64,539.25 1648.36,539.68 1673.7,539.25 C1699,538.82 1712.41,544.02 1736.9,537.1 C1762.93,529.74 1775.94,521.28 1800,503.54 C1826.58,483.94 1836.43,460.68 1863.5,443.74 C1887.03,429.02 1902.24,420.45 1926.5,424.39 C1952.08,428.54 1963.92,445.88 1988.1,463.96 C2013.84,483.22 2024.27,505.27 2051.3,517.74 C2074.99,528.67 2089.46,520.58 2114.9,522.47" fill="none" stroke="#86a845" stroke-width="3.0" stroke-linecap="butt" stroke-linejoin="round" stroke-dasharray="9 3"/><path d="M1547.1,532.45 L1553.9,546.05 L1540.3,546.05 z" fill="#86a845"/><path d="M1610.3,532.45 L1617.1,546.05 L1603.5,546.05 z" fill="#86a845"/><path d="M1673.7,532.45 L1680.5,546.05 L1666.9,546.05 z" fill="#86a845"/><path d="M1736.9,530.3 L1743.7,543.9 L1730.1,543.9 z" fill="#86a845"/><path d="M1800,496.74 L1806.8,510.34 L1793.2,510.34 z" fill="#86a845"/><path d="M1863.5,436.94 L1870.3,450.54 L1856.7,450.54 z" fill="#86a845"/><path d="M1926.5,417.59 L1933.3,431.19 L1919.7,431.19 z" fill="#86a845"/><path d="M1988.1,457.16 L1994.9,470.76 L1981.3,470.76 z" fill="#86a845"/><path d="M2051.3,510.94 L2058.1,524.54 L2044.5,524.54 z" fill="#86a845"/><path d="M2114.9,515.67 L2121.7,529.27 L2108.1,529.27 z" fill="#86a845"/><path d="M1547.1,537.1 C1572.38,537.1 1585.34,541.34 1610.3,537.1 C1635.98,532.73 1651.95,536.43 1673.7,515.59 C1702.59,487.9 1717.01,474.51 1736.9,415.78 C1767.53,325.31 1767.28,227.45 1800,142.6 C1817.92,96.15 1844.6,61.7 1863.5,87.54 C1895.2,130.88 1899.27,232.72 1926.5,315.54 C1949.11,384.32 1964.11,472.09 1988.1,466.55 C2014.03,460.56 2027.63,275.4 2051.3,286.72 C2078.35,299.66 2089.46,431.01 2114.9,527.2" fill="none" stroke="#6b4f93" stroke-width="3.0" stroke-linecap="butt" stroke-linejoin="round" stroke-dasharray="12 9"/><path d="M1540.1,530.1 L1554.1,544.1 M1554.1,530.1 L1540.1,544.1" stroke="#6b4f93" stroke-width="1.3" fill="none"/><path d="M1603.3,530.1 L1617.3,544.1 M1617.3,530.1 L1603.3,544.1" stroke="#6b4f93" stroke-width="1.3" fill="none"/><path d="M1666.7,508.59 L1680.7,522.59 M1680.7,508.59 L1666.7,522.59" stroke="#6b4f93" stroke-width="1.3" fill="none"/><path d="M1729.9,408.78 L1743.9,422.78 M1743.9,408.78 L1729.9,422.78" stroke="#6b4f93" stroke-width="1.3" fill="none"/><path d="M1793,135.6 L1807,149.6 M1807,135.6 L1793,149.6" stroke="#6b4f93" stroke-width="1.3" fill="none"/><path d="M1856.5,80.54 L1870.5,94.54 M1870.5,80.54 L1856.5,94.54" stroke="#6b4f93" stroke-width="1.3" fill="none"/><path d="M1919.5,308.54 L1933.5,322.54 M1933.5,308.54 L1919.5,322.54" stroke="#6b4f93" stroke-width="1.3" fill="none"/><path d="M1981.1,459.55 L1995.1,473.55 M1995.1,459.55 L1981.1,473.55" stroke="#6b4f93" stroke-width="1.3" fill="none"/><path d="M2044.3,279.72 L2058.3,293.72 M2058.3,279.72 L2044.3,293.72" stroke="#6b4f93" stroke-width="1.3" fill="none"/><path d="M2107.9,520.2 L2121.9,534.2 M2121.9,520.2 L2107.9,534.2" stroke="#6b4f93" stroke-width="1.3" fill="none"/><path d="M1547.1,537.1 C1572.38,537.1 1585.34,541.34 1610.3,537.1 C1635.98,532.73 1651.99,536.54 1673.7,515.59 C1702.63,487.67 1716.96,473.81 1736.9,414.92 C1767.48,324.62 1767.29,227.18 1800,142.6 C1817.93,96.23 1844.6,61.7 1863.5,87.54 C1895.2,130.88 1899.27,232.72 1926.5,315.54 C1949.11,384.32 1964.11,472.09 1988.1,466.55 C2014.03,460.56 2027.64,275.32 2051.3,286.72 C2078.36,299.76 2089.46,431.27 2114.9,527.63" fill="none" stroke="#3a9bb8" stroke-width="3.0" stroke-linecap="butt" stroke-linejoin="round" stroke-dasharray="12 9 3 9"/><path d="M1540.1,530.1 L1554.1,544.1 M1554.1,530.1 L1540.1,544.1 M1547.1,530.1 L1547.1,544.1" stroke="#3a9bb8" stroke-width="1.5" fill="none"/><path d="M1603.3,530.1 L1617.3,544.1 M1617.3,530.1 L1603.3,544.1 M1610.3,530.1 L1610.3,544.1" stroke="#3a9bb8" stroke-width="1.5" fill="none"/><path d="M1666.7,508.59 L1680.7,522.59 M1680.7,508.59 L1666.7,522.59 M1673.7,508.59 L1673.7,522.59" stroke="#3a9bb8" stroke-width="1.5" fill="none"/><path d="M1729.9,407.92 L1743.9,421.92 M1743.9,407.92 L1729.9,421.92 M1736.9,407.92 L1736.9,421.92" stroke="#3a9bb8" stroke-width="1.5" fill="none"/><path d="M1793,135.6 L1807,149.6 M1807,135.6 L1793,149.6 M1800,135.6 L1800,149.6" stroke="#3a9bb8" stroke-width="1.5" fill="none"/><path d="M1856.5,80.54 L1870.5,94.54 M1870.5,80.54 L1856.5,94.54 M1863.5,80.54 L1863.5,94.54" stroke="#3a9bb8" stroke-width="1.5" fill="none"/><path d="M1919.5,308.54 L1933.5,322.54 M1933.5,308.54 L1919.5,322.54 M1926.5,308.54 L1926.5,322.54" stroke="#3a9bb8" stroke-width="1.5" fill="none"/><path d="M1981.1,459.55 L1995.1,473.55 M1995.1,459.55 L1981.1,473.55 M1988.1,459.55 L1988.1,473.55" stroke="#3a9bb8" stroke-width="1.5" fill="none"/><path d="M2044.3,279.72 L2058.3,293.72 M2058.3,279.72 L2044.3,293.72 M2051.3,279.72 L2051.3,293.72" stroke="#3a9bb8" stroke-width="1.5" fill="none"/><path d="M2107.9,520.63 L2121.9,534.63 M2121.9,520.63 L2107.9,534.63 M2114.9,520.63 L2114.9,534.63" stroke="#3a9bb8" stroke-width="1.5" fill="none"/><path d="M1547.1,537.1 C1572.38,536.93 1585,536.93 1610.3,536.67 C1635.64,536.41 1648.36,536.15 1673.7,535.81 C1699,535.46 1712.42,541.62 1736.9,534.95 C1762.94,527.85 1776.03,519.4 1800,501.39 C1826.67,481.37 1836.28,456.72 1863.5,439.87 C1886.88,425.4 1902.36,418.43 1926.5,423.09 C1952.2,428.06 1963.84,445.65 1988.1,463.96 C2013.76,483.34 2024.3,504.85 2051.3,517.31 C2075.02,528.25 2089.46,520.41 2114.9,522.47" fill="none" stroke="#e07f33" stroke-width="3.0" stroke-linecap="butt" stroke-linejoin="round" stroke-dasharray="24 9"/><circle cx="1547.1" cy="537.1" r="5.3" fill="#e07f33"/><circle cx="1610.3" cy="536.67" r="5.3" fill="#e07f33"/><circle cx="1673.7" cy="535.81" r="5.3" fill="#e07f33"/><circle cx="1736.9" cy="534.95" r="5.3" fill="#e07f33"/><circle cx="1800" cy="501.39" r="5.3" fill="#e07f33"/><circle cx="1863.5" cy="439.87" r="5.3" fill="#e07f33"/><circle cx="1926.5" cy="423.09" r="5.3" fill="#e07f33"/><circle cx="1988.1" cy="463.96" r="5.3" fill="#e07f33"/><circle cx="2051.3" cy="517.31" r="5.3" fill="#e07f33"/><circle cx="2114.9" cy="522.47" r="5.3" fill="#e07f33"/><text x="1528.3" y="547.8" text-anchor="end" font-size="18" fill="#3b3b3b" stroke="#3b3b3b" stroke-width="0.5" font-family="'Liberation Sans', Arial, sans-serif">0</text><text x="1528.3" y="504.78" text-anchor="end" font-size="18" fill="#3b3b3b" stroke="#3b3b3b" stroke-width="0.5" font-family="'Liberation Sans', Arial, sans-serif">1</text><text x="1528.3" y="461.76" text-anchor="end" font-size="18" fill="#3b3b3b" stroke="#3b3b3b" stroke-width="0.5" font-family="'Liberation Sans', Arial, sans-serif">2</text><text x="1528.3" y="418.74" text-anchor="end" font-size="18" fill="#3b3b3b" stroke="#3b3b3b" stroke-width="0.5" font-family="'Liberation Sans', Arial, sans-serif">3</text><text x="1528.3" y="375.72" text-anchor="end" font-size="18" fill="#3b3b3b" stroke="#3b3b3b" stroke-width="0.5" font-family="'Liberation Sans', Arial, sans-serif">4</text><text x="1528.3" y="332.7" text-anchor="end" font-size="18" fill="#3b3b3b" stroke="#3b3b3b" stroke-width="0.5" font-family="'Liberation Sans', Arial, sans-serif">5</text><text x="1528.3" y="289.68" text-anchor="end" font-size="18" fill="#3b3b3b" stroke="#3b3b3b" stroke-width="0.5" font-family="'Liberation Sans', Arial, sans-serif">6</text><text x="1528.3" y="246.66" text-anchor="end" font-size="18" fill="#3b3b3b" stroke="#3b3b3b" stroke-width="0.5" font-family="'Liberation Sans', Arial, sans-serif">7</text><text x="1528.3" y="203.64" text-anchor="end" font-size="18" fill="#3b3b3b" stroke="#3b3b3b" stroke-width="0.5" font-family="'Liberation Sans', Arial, sans-serif">8</text><text x="1528.3" y="160.62" text-anchor="end" font-size="18" fill="#3b3b3b" stroke="#3b3b3b" stroke-width="0.5" font-family="'Liberation Sans', Arial, sans-serif">9</text><text x="1528.3" y="117.6" text-anchor="end" font-size="18" fill="#3b3b3b" stroke="#3b3b3b" stroke-width="0.5" font-family="'Liberation Sans', Arial, sans-serif">10</text><text x="1528.3" y="74.58" text-anchor="end" font-size="18" fill="#3b3b3b" stroke="#3b3b3b" stroke-width="0.5" font-family="'Liberation Sans', Arial, sans-serif">11</text><text x="1528.3" y="31.56" text-anchor="end" font-size="18" fill="#3b3b3b" stroke="#3b3b3b" stroke-width="0.5" font-family="'Liberation Sans', Arial, sans-serif">12</text><text x="1547.1" y="574.9" text-anchor="middle" font-size="18" fill="#3b3b3b" stroke="#3b3b3b" stroke-width="0.5" font-family="'Liberation Sans', Arial, sans-serif">0.1</text><text x="1610.3" y="574.9" text-anchor="middle" font-size="18" fill="#3b3b3b" stroke="#3b3b3b" stroke-width="0.5" font-family="'Liberation Sans', Arial, sans-serif">0.4</text><text x="1673.7" y="574.9" text-anchor="middle" font-size="18" fill="#3b3b3b" stroke="#3b3b3b" stroke-width="0.5" font-family="'Liberation Sans', Arial, sans-serif">0.7</text><text x="1736.9" y="574.9" text-anchor="middle" font-size="18" fill="#3b3b3b" stroke="#3b3b3b" stroke-width="0.5" font-family="'Liberation Sans', Arial, sans-serif">1</text><text x="1800" y="574.9" text-anchor="middle" font-size="18" fill="#3b3b3b" stroke="#3b3b3b" stroke-width="0.5" font-family="'Liberation Sans', Arial, sans-serif">1.3</text><text x="1863.5" y="574.9" text-anchor="middle" font-size="18" fill="#3b3b3b" stroke="#3b3b3b" stroke-width="0.5" font-family="'Liberation Sans', Arial, sans-serif">1.6</text><text x="1926.5" y="574.9" text-anchor="middle" font-size="18" fill="#3b3b3b" stroke="#3b3b3b" stroke-width="0.5" font-family="'Liberation Sans', Arial, sans-serif">1.9</text><text x="1988.1" y="574.9" text-anchor="middle" font-size="18" fill="#3b3b3b" stroke="#3b3b3b" stroke-width="0.5" font-family="'Liberation Sans', Arial, sans-serif">2.2</text><text x="2051.3" y="574.9" text-anchor="middle" font-size="18" fill="#3b3b3b" stroke="#3b3b3b" stroke-width="0.5" font-family="'Liberation Sans', Arial, sans-serif">2.5</text><text x="2114.9" y="574.9" text-anchor="middle" font-size="18" fill="#3b3b3b" stroke="#3b3b3b" stroke-width="0.5" font-family="'Liberation Sans', Arial, sans-serif">2.8</text><rect x="1548" y="25.3" width="144.3" height="215.5" fill="#fff" stroke="#454545" stroke-width="1.8"/><path d="M1560.6,42H1613" fill="none" stroke="#416eae" stroke-width="3.0" stroke-linecap="round" stroke-linejoin="round"/><path d="M1586.7,35 l7,7 l-7,7 l-7,-7 z" fill="#416eae"/><text x="1617.5" y="47.9" font-size="17.6" textLength="62" lengthAdjust="spacingAndGlyphs" fill="#3b3b3b" stroke="#3b3b3b" stroke-width="0.5" font-family="'Liberation Sans', Arial, sans-serif">Hinge1</text><path d="M1560.6,78.3H1613" fill="none" stroke="#bb4441" stroke-width="3.0" stroke-linecap="round" stroke-linejoin="round" stroke-dasharray="0.01 5.8"/><rect x="1581" y="72.6" width="11.4" height="11.4" fill="#bb4441"/><text x="1617.5" y="84.2" font-size="17.6" textLength="62" lengthAdjust="spacingAndGlyphs" fill="#3b3b3b" stroke="#3b3b3b" stroke-width="0.5" font-family="'Liberation Sans', Arial, sans-serif">Hinge2</text><path d="M1560.6,114.6H1613" fill="none" stroke="#86a845" stroke-width="3.0" stroke-linecap="butt" stroke-linejoin="round" stroke-dasharray="9 3"/><path d="M1586.7,107.8 L1593.5,121.4 L1579.9,121.4 z" fill="#86a845"/><text x="1617.5" y="120.5" font-size="17.6" textLength="62" lengthAdjust="spacingAndGlyphs" fill="#3b3b3b" stroke="#3b3b3b" stroke-width="0.5" font-family="'Liberation Sans', Arial, sans-serif">Hinge3</text><path d="M1560.6,150.9H1613" fill="none" stroke="#6b4f93" stroke-width="3.0" stroke-linecap="butt" stroke-linejoin="round" stroke-dasharray="12 9"/><path d="M1579.7,143.9 L1593.7,157.9 M1593.7,143.9 L1579.7,157.9" stroke="#6b4f93" stroke-width="1.3" fill="none"/><text x="1617.5" y="156.8" font-size="17.6" textLength="62" lengthAdjust="spacingAndGlyphs" fill="#3b3b3b" stroke="#3b3b3b" stroke-width="0.5" font-family="'Liberation Sans', Arial, sans-serif">Hinge4</text><path d="M1560.6,187.2H1613" fill="none" stroke="#3a9bb8" stroke-width="3.0" stroke-linecap="butt" stroke-linejoin="round" stroke-dasharray="12 9 3 9"/><path d="M1579.7,180.2 L1593.7,194.2 M1593.7,180.2 L1579.7,194.2 M1586.7,180.2 L1586.7,194.2" stroke="#3a9bb8" stroke-width="1.5" fill="none"/><text x="1617.5" y="193.1" font-size="17.6" textLength="62" lengthAdjust="spacingAndGlyphs" fill="#3b3b3b" stroke="#3b3b3b" stroke-width="0.5" font-family="'Liberation Sans', Arial, sans-serif">Hinge5</text><path d="M1560.6,223.5H1613" fill="none" stroke="#e07f33" stroke-width="3.0" stroke-linecap="butt" stroke-linejoin="round" stroke-dasharray="24 9"/><circle cx="1586.7" cy="223.5" r="5.3" fill="#e07f33"/><text x="1617.5" y="229.4" font-size="17.6" textLength="62" lengthAdjust="spacingAndGlyphs" fill="#3b3b3b" stroke="#3b3b3b" stroke-width="0.5" font-family="'Liberation Sans', Arial, sans-serif">Hinge6</text><text x="1831" y="608.3" text-anchor="middle" font-size="20.5" textLength="182" lengthAdjust="spacingAndGlyphs" font-weight="bold" fill="#111" font-family="'Liberation Sans', Arial, sans-serif">Frequency (rad/s)</text><text transform="translate(1495.1,283.28) rotate(-90)" text-anchor="middle" font-size="20.6" textLength="433" lengthAdjust="spacingAndGlyphs" font-weight="bold" fill="#111" font-family="'Liberation Sans', Arial, sans-serif">Break-over angle/Wave amplitude (deg/m)</text><text x="1467.6" y="577.3" font-size="37" fill="#000" font-family="'Liberation Sans', Arial, sans-serif">(c)</text></g>
</svg></body></html>
